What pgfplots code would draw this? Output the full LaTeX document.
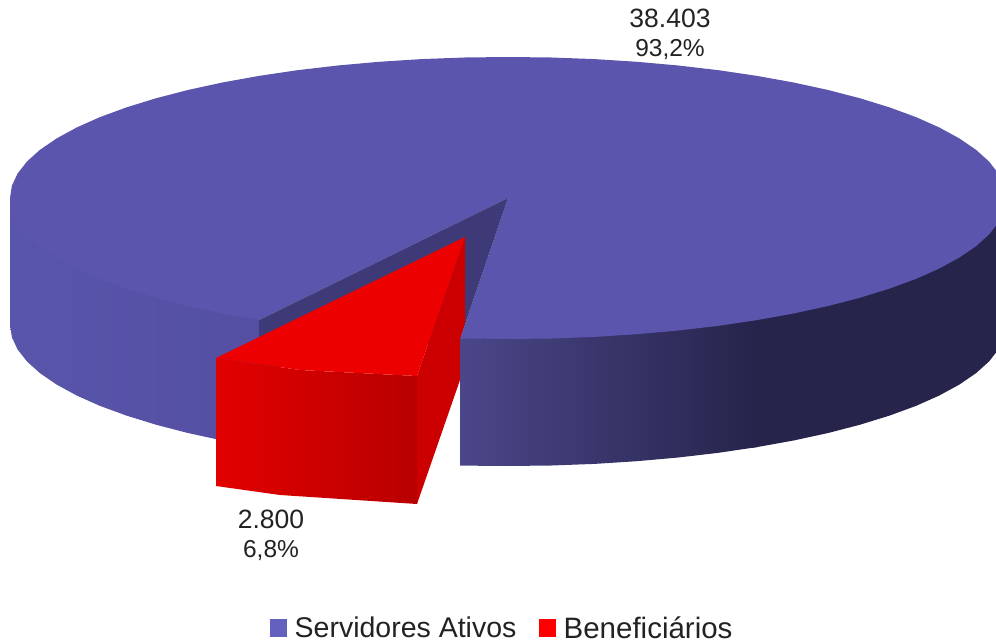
\documentclass[border=0pt]{standalone}
\usepackage{pgfplots}
\pgfplotsset{compat=1.18}
\usepackage{fontspec}
\setmainfont{Liberation Sans}
\definecolor{topblue}{HTML}{5C55AE}
\definecolor{wallA}{HTML}{5955AB}
\definecolor{wallB}{HTML}{5B56B0}
\definecolor{wallC}{HTML}{544FA2}
\definecolor{darkA}{HTML}{4B4689}
\definecolor{darkB}{HTML}{26244B}
\definecolor{inner}{HTML}{3E3A78}
\definecolor{redtop}{HTML}{EC0000}
\definecolor{redL}{HTML}{E20000}
\definecolor{redR}{HTML}{B80000}
\definecolor{redside}{HTML}{CC0000}
\definecolor{legblue}{HTML}{6360BE}
\definecolor{txt}{HTML}{222222}
\begin{document}
\begin{tikzpicture}
\begin{axis}[
  width=996pt,height=644pt,scale only axis,
  xmin=0,xmax=996,ymin=0,ymax=644,y dir=reverse,
  ticks=none,axis line style={draw=none},
  legend columns=2,
  legend style={draw=none,fill=none,at={(axis cs:502.5,642)},anchor=south,
    font=\fontsize{28.5}{30}\selectfont,text=txt,inner sep=0pt,outer sep=0pt,
    /tikz/every even column/.append style={column sep=21pt}},
  legend cell align=left,
  legend image code/.code={\fill[draw=none,#1] (0pt,-9pt) rectangle (17pt,9pt);\path (22pt,0pt);},
]
% left wall
\addplot[draw=none,left color=wallA,middle color=wallB,right color=wallC,forget plot] coordinates {
(10,198)(10,325)(11.9,337.3)(17.6,349.5)(27,361.5)(40,373.2)(56.7,384.6)(76.7,395.5)(100,405.9)(126.5,415.6)(155.9,424.7)(187.9,433)(222.4,440.5)(259,447.1)
(259,300)(150,270)(60,235)(20,200)} -- cycle;
% right wall, dark end
\addplot[draw=none,fill=darkB,forget plot] coordinates {
(750,300)(900,260)(990,210)(1006,198)
(1006,325)(1004.1,337.3)(998.4,349.5)(989,361.5)(976,373.2)(959.3,384.6)(939.3,395.5)(916,405.9)(889.5,415.6)(860.1,424.7)(828.1,433)(793.6,440.5)(757,447.1)(750,448)} -- cycle;
% right wall, shaded part
\addplot[draw=none,left color=darkA,right color=darkB,forget plot] coordinates {
(460,338)(520,330)(757,310)
(757,447.1)(718.5,452.8)(678.3,457.5)(636.9,461.2)(594.5,463.9)(551.4,465.5)(508,466)(460,465.6)} -- cycle;
% top surface
\addplot[draw=none,fill=topblue,forget plot] coordinates {
(508,198)(460,339)(464.6,338.5)(508,339)(551.4,338.5)(594.5,336.9)(636.9,334.2)(678.3,330.5)(718.5,325.8)(757,320.1)(793.6,313.5)(828.1,306)(860.1,297.7)(889.5,288.6)(916,278.9)(939.3,268.5)(959.3,257.6)(976,246.2)(989,234.5)(998.4,222.5)(1004.1,210.3)(1006,198)
(1004.1,185.7)(998.4,173.5)(989,161.5)(976,149.8)(959.3,138.4)(939.3,127.5)(916,117.1)(889.5,107.4)(860.1,98.3)(828.1,90)(793.6,82.5)(757,75.9)(718.5,70.2)(678.3,65.5)(636.9,61.8)(594.5,59.1)(551.4,57.5)(508,57)
(464.6,57.5)(421.5,59.1)(379.1,61.8)(337.7,65.5)(297.5,70.2)(259,75.9)(222.4,82.5)(187.9,90)(155.9,98.3)(126.5,107.4)(100,117.1)(76.7,127.5)(56.7,138.4)(40,149.8)(27,161.5)(17.6,173.5)(11.9,185.7)(10,198)
(11.9,210.3)(17.6,222.5)(27,234.5)(40,246.2)(56.7,257.6)(76.7,268.5)(100,278.9)(126.5,288.6)(155.9,297.7)(187.9,306)(222.4,313.5)(259,320.1)} -- cycle;
% inner faces of the gap
\addplot[draw=none,fill=inner,forget plot] coordinates {(508,198)(259,320.1)(259,370)(460,339)} -- cycle;
% red slice
\addplot[draw=none,left color=redL,right color=redR,forget plot] coordinates {(216,358)(300,370)(417,376)(417,504)(280,495)(216,486)} -- cycle;
\addplot[draw=none,fill=redside,forget plot] coordinates {(465,237)(465,323)(460,339)(460,380)(417,504)(417,376)} -- cycle;
\addplot[draw=none,fill=redtop,forget plot] coordinates {(216,358)(465,237)(417,376)(300,370)} -- cycle;
% labels
\node[font=\fontsize{26.5}{28}\selectfont,text=txt] at (axis cs:670,18) {38.403};
\node[font=\fontsize{24.5}{28}\selectfont,text=txt] at (axis cs:670,50) {93,2\%};
\node[font=\fontsize{26.5}{28}\selectfont,text=txt] at (axis cs:271,519) {2.800};
\node[font=\fontsize{24.5}{28}\selectfont,text=txt] at (axis cs:271,551) {6,8\%};
\addlegendimage{fill=legblue}
\addlegendentry{Servidores Ativos}
\addlegendimage{fill=red}
\addlegendentry{\fontsize{29.5}{30}\selectfont Beneficiários}
\end{axis}
\end{tikzpicture}
\end{document}
